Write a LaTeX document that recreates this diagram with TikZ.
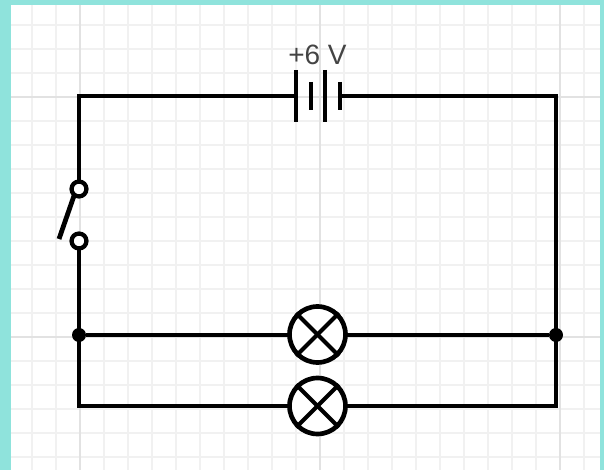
\documentclass[tikz,border=0pt]{standalone}
\usepackage{fontspec}
\setmainfont{Liberation Sans}
\definecolor{frame}{HTML}{8FE3DC}
\definecolor{gridminor}{HTML}{F1F1F1}
\definecolor{gridmajor}{HTML}{E2E2E2}
\definecolor{labelgrey}{HTML}{444444}
\tikzset{
  x=0.75pt,y=-0.75pt,
  wire/.style={line width=3.6pt,black,line cap=butt},
  thinwire/.style={line width=3.1pt,black},
  terminal/.style={circle,draw=black,fill=white,line width=3.2pt,inner sep=0pt,minimum size=11.2pt},
  lamp/.style={circle,draw=black,fill=white,line width=3.5pt,inner sep=0pt,minimum size=42pt},
  junction/.style={circle,fill=black,inner sep=0pt,minimum size=10.5pt},
  gridminorline/.style={gridminor,line width=0.9pt},
  gridmajorline/.style={gridmajor,line width=0.9pt},
}
\begin{document}
\begin{tikzpicture}
\useasboundingbox (0,0) rectangle (604,470);
\fill[frame] (0,0) rectangle (604,470);
\fill[white] (11,5) rectangle (600,470);
% grid
\foreach \i in {0,...,23} {
  \pgfmathsetmacro{\gx}{32+24*\i}
  \draw[gridminorline] (\gx,5) -- (\gx,470);
}
\foreach \i in {0,...,18} {
  \pgfmathsetmacro{\gy}{25+24*\i}
  \draw[gridminorline] (11,\gy) -- (600,\gy);
}
\foreach \gx in {80,320,560} \draw[gridmajorline] (\gx,5) -- (\gx,470);
\foreach \gy in {97,337} \draw[gridmajorline] (11,\gy) -- (600,\gy);
% named points
\coordinate (tl) at (79,96);
\coordinate (tr) at (556,96);
\coordinate (bl) at (79,406);
\coordinate (br) at (556,406);
\coordinate (p1t) at (296,70);
\coordinate (p1b) at (296,122);
\coordinate (p1m) at (296,96);
\coordinate (p2t) at (311,82);
\coordinate (p2b) at (311,110);
\coordinate (p3t) at (325,70);
\coordinate (p3b) at (325,122);
\coordinate (p4t) at (340,82);
\coordinate (p4b) at (340,110);
\coordinate (p4m) at (340,96);
\coordinate (bladeA) at (76,190);
\coordinate (bladeB) at (59,239);
% wires
\draw[wire,line join=miter] (p1m) -- (tl) -- (79,189);
\draw[wire,line join=miter] (p4m) -- (tr) -- (br) -- (bl) -- (79,241);
\node[junction] (jl) at (79,335) {};
\node[junction] (jr) at (556,335) {};
\draw[wire] (jl) -- (jr);
% battery
\draw[wire] (p1t) -- (p1b);
\draw[wire] (p2t) -- (p2b);
\draw[wire] (p3t) -- (p3b);
\draw[wire] (p4t) -- (p4b);
\node[text=labelgrey,font=\fontsize{21}{25}\selectfont,inner sep=0pt] (lab) at (317.5,54.5) {+6 V};
% switch
\draw[wire] (bladeA) -- (bladeB);
\node[terminal] (s1) at (79,189) {};
\node[terminal] (s2) at (79,241) {};
% lamps
\node[lamp] (l1) at (317.5,334.5) {};
\node[lamp] (l2) at (317.5,406) {};
\foreach \l in {l1,l2} {
  \draw[thinwire] (\l.45) -- (\l.225);
  \draw[thinwire] (\l.135) -- (\l.315);
}
\end{tikzpicture}
\end{document}
